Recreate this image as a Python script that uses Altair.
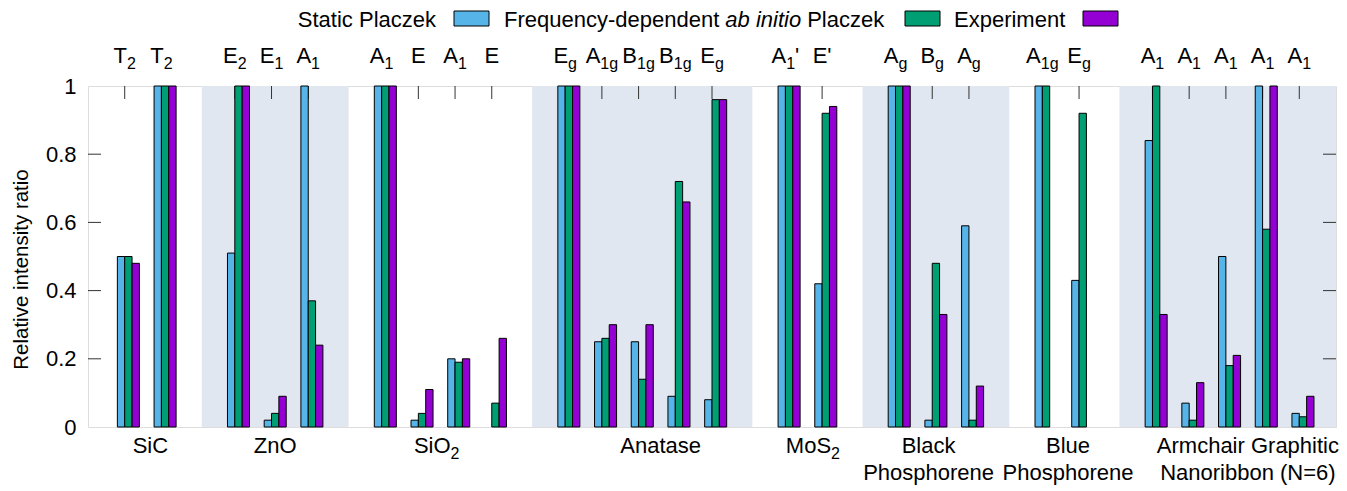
import altair as alt
import pandas as pd

# ---------------- data ----------------
series = ["Static Placzek", "Frequency-dependent ab initio Placzek", "Experiment"]
colors = ["#56b4e9", "#009e73", "#9400d3"]

mat_line1 = ["SiC", "ZnO", "SiO_2", "Anatase", "MoS_2", "Black", "Blue", "Armchair Graphitic"]
mat_line2 = ["", "", "", "", "", "Phosphorene", "Phosphorene", "Nanoribbon (N=6)"]
mat_label_pos = [1.7, 5.1, 9.5, 15.6, 19.75, 22.9, 26.7, 31.6]
mat_shaded = [False, True, False, True, False, True, False, True]

mode_material = [0, 0, 1, 1, 1, 2, 2, 2, 2, 3, 3, 3, 3, 3, 4, 4, 5, 5, 5, 6, 6, 7, 7, 7, 7, 7]
mode_pos = [1, 2, 4, 5, 6, 8, 9, 10, 11, 13, 14, 15, 16, 17, 19, 20, 22, 23, 24, 26, 27, 29, 30, 31, 32, 33]
mode_labels = ["T_2", "T_2", "E_2", "E_1", "A_1", "A_1", "E", "A_1", "E", "E_g", "A_{1g}", "B_{1g}",
               "B_{1g}", "E_g", "A_1'", "E'", "A_g", "B_g", "A_g", "A_{1g}", "E_g",
               "A_1", "A_1", "A_1", "A_1", "A_1"]

static = [0.50, 1.00, 0.51, 0.02, 1.00, 1.00, 0.02, 0.20, None, 1.00, 0.25, 0.25, 0.09, 0.08,
          1.00, 0.42, 1.00, 0.02, 0.59, 1.00, 0.43, 0.84, 0.07, 0.50, 1.00, 0.04]
freq = [0.50, 1.00, 1.00, 0.04, 0.37, 1.00, 0.04, 0.19, 0.07, 1.00, 0.26, 0.14, 0.72, 0.96,
        1.00, 0.92, 1.00, 0.48, 0.02, 1.00, 0.92, 1.00, 0.02, 0.18, 0.58, 0.03]
expt = [0.48, 1.00, 1.00, 0.09, 0.24, 1.00, 0.11, 0.20, 0.26, 1.00, 0.30, 0.30, 0.66, 0.96,
        1.00, 0.94, 1.00, 0.33, 0.12, None, None, 0.33, 0.13, 0.21, 1.00, 0.09]

y_ticks = [0, 0.2, 0.4, 0.6, 0.8, 1]

# ---------------- layout ----------------
W, H = 1248, 341
XMAX = 34
FONT = "Liberation Sans"
FS = 22
FS_SUB = 16
TICK_COLOR = "#333333"

xscale = alt.Scale(domain=[0, XMAX], nice=False, zero=False)
yscale = alt.Scale(domain=[0, 1], nice=False, zero=True)

# bars
rows = []
for i, p in enumerate(mode_pos):
    for s, vals in enumerate([static, freq, expt]):
        v = vals[i]
        if v is None:
            continue
        rows.append(dict(pos=p, series=series[s], sidx=s, value=v))
bars_df = pd.DataFrame(rows)

# shading per material
shade_rows = []
for m, sh in enumerate(mat_shaded):
    if not sh:
        continue
    ps = [p for p, mm in zip(mode_pos, mode_material) if mm == m]
    shade_rows.append(dict(first=min(ps), last=max(ps)))
shade_df = pd.DataFrame(shade_rows)

# text with subscripts: base + subscript + suffix (approximate Helvetica advance widths)
metric = {"A": 0.667, "B": 0.667, "E": 0.667, "T": 0.611, "S": 0.667, "O": 0.778, "M": 0.833,
          "i": 0.222, "o": 0.556, "1": 0.556, "2": 0.556, "g": 0.556, "'": 0.191}


def wid(s, fs):
    return sum(metric.get(c, 0.556) for c in s) * fs


def parse(lbl):
    if "_" in lbl:
        base, rest = lbl.split("_", 1)
        if rest.startswith("{"):
            sub = rest[1:rest.index("}")]
            suf = rest[rest.index("}") + 1:]
        else:
            sub, suf = rest[0], rest[1:]
    else:
        base, sub, suf = lbl, "", ""
    return base, sub, suf


upx = W / XMAX


def split_rows(positions, labels):
    out = []
    for p, lbl in zip(positions, labels):
        b, s, f = parse(lbl)
        wb, ws, wf = wid(b, FS), wid(s, FS_SUB), wid(f, FS)
        j = -(wb + ws + wf) / 2 + wb
        out.append(dict(pos=p, base=b, sub=s, suf=f, hassub=int(s != ""),
                        jx=p + j / upx, sx=p + (j + ws) / upx))
    return pd.DataFrame(out)


lab_df = split_rows(mode_pos, mode_labels)
bot_df = split_rows(mat_label_pos, mat_line1)
mat_df = pd.DataFrame(dict(pos=mat_label_pos, l2=mat_line2))
modes_df = pd.DataFrame(dict(pos=mode_pos))
yt_df = pd.DataFrame(dict(v=[t for t in y_ticks if 0 < t < 1]))

yaxis = alt.Axis(values=y_ticks, format="~g", ticks=False, domain=False, grid=False,
                 labelFontSize=FS, labelFont=FONT, labelColor="black", labelPadding=12,
                 title="Relative intensity ratio", titleFont=FONT, titleFontSize=20.5,
                 titleFontWeight="normal", titleColor="black", titlePadding=14, titleY=183)

shade = alt.Chart(shade_df).transform_calculate(
    x0="datum.first - 0.9", x1="datum.last + 1.1"
).mark_rect(color="#e1e7f0", clip=True).encode(
    x=alt.X("x0:Q", scale=xscale, axis=None), x2="x1:Q",
    y=alt.value(0), y2=alt.value(H))

bars = alt.Chart(bars_df).transform_calculate(
    x0="datum.pos - 0.2 + 0.2*datum.sidx", x1="datum.pos + 0.2*datum.sidx", zero="0"
).mark_rect(stroke="black", strokeWidth=1).encode(
    x=alt.X("x0:Q", scale=xscale, axis=None), x2="x1:Q",
    y=alt.Y("value:Q", scale=yscale, axis=yaxis), y2="zero:Q",
    color=alt.Color("series:N", scale=alt.Scale(domain=series, range=colors), legend=None))

ytl = alt.Chart(yt_df).mark_rule(color=TICK_COLOR, strokeWidth=1).encode(
    x=alt.value(0), x2=alt.value(13), y=alt.Y("v:Q", scale=yscale, axis=yaxis))
ytr = alt.Chart(yt_df).mark_rule(color=TICK_COLOR, strokeWidth=1).encode(
    x=alt.value(W - 13), x2=alt.value(W), y=alt.Y("v:Q", scale=yscale, axis=yaxis))
xtt = alt.Chart(modes_df).mark_rule(color=TICK_COLOR, strokeWidth=1).encode(
    x=alt.X("pos:Q", scale=xscale, axis=None), y=alt.value(0), y2=alt.value(13))


def sub_text_layers(df, ybase, subset=None):
    c = alt.Chart(df)
    if subset is not None:
        c = c.transform_filter(subset)
    base = c.mark_text(align="right", baseline="alphabetic", font=FONT, fontSize=FS,
                       color="black").encode(
        x=alt.X("jx:Q", scale=xscale, axis=None), y=alt.value(ybase), text="base:N")
    sub = c.mark_text(align="left", baseline="alphabetic", font=FONT, fontSize=FS_SUB,
                      color="black").encode(
        x=alt.X("jx:Q", scale=xscale, axis=None), y=alt.value(ybase + 6), text="sub:N")
    suf = c.mark_text(align="left", baseline="alphabetic", font=FONT, fontSize=FS,
                      color="black").encode(
        x=alt.X("sx:Q", scale=xscale, axis=None), y=alt.value(ybase), text="suf:N")
    return [base, sub, suf]


top_layers = sub_text_layers(lab_df, -23)
bot_sub_layers = sub_text_layers(bot_df, H + 26, "datum.hassub == 1")
bot_plain = alt.Chart(bot_df).transform_filter("datum.hassub == 0").mark_text(
    align="center", baseline="alphabetic", font=FONT, fontSize=FS, color="black").encode(
    x=alt.X("pos:Q", scale=xscale, axis=None), y=alt.value(H + 26), text="base:N")
bot2 = alt.Chart(mat_df).mark_text(align="center", baseline="alphabetic", font=FONT,
                                   fontSize=FS, color="black").encode(
    x=alt.X("pos:Q", scale=xscale, axis=None), y=alt.value(H + 53), text="l2:N")

# legend (custom, gnuplot style: title then sample box)
LEG_Y = -59
legend_layers = []
leg_texts = [
    (series[0], 348, "right", "normal"),
    ("Frequency-dependent", 416, "left", "normal"),
    ("ab initio", 637.3, "left", "italic"),
    ("Placzek", 719.2, "left", "normal"),
    (series[2], 866, "left", "normal"),
]
for txt, px, al, st in leg_texts:
    legend_layers.append(
        alt.Chart(pd.DataFrame(dict(t=[txt]))).mark_text(
            align=al, baseline="alphabetic", font=FONT, fontSize=FS, fontStyle=st,
            color="black").encode(x=alt.value(px), y=alt.value(LEG_Y), text="t:N"))
leg_boxes = [(366, 401), (817, 852), (995, 1030)]
for (a, b), c, s in zip(leg_boxes, colors, series):
    legend_layers.append(
        alt.Chart(pd.DataFrame(dict(s=[s]))).mark_rect(
            color=c, stroke="black", strokeWidth=1).encode(
            x=alt.value(a), x2=alt.value(b), y=alt.value(-75), y2=alt.value(-60)))

chart = alt.layer(shade, ytl, ytr, xtt, bars, *top_layers, *bot_sub_layers, bot_plain, bot2,
                  *legend_layers).properties(
    width=W, height=H,
    autosize=alt.AutoSizeParams(type="none"),
    padding={"left": 80, "top": 78, "right": 3, "bottom": 60},
).configure_view(stroke="black", strokeWidth=1).configure(background="white", font=FONT)

chart.save("out.html", embed_options={"renderer": "svg", "actions": False})
